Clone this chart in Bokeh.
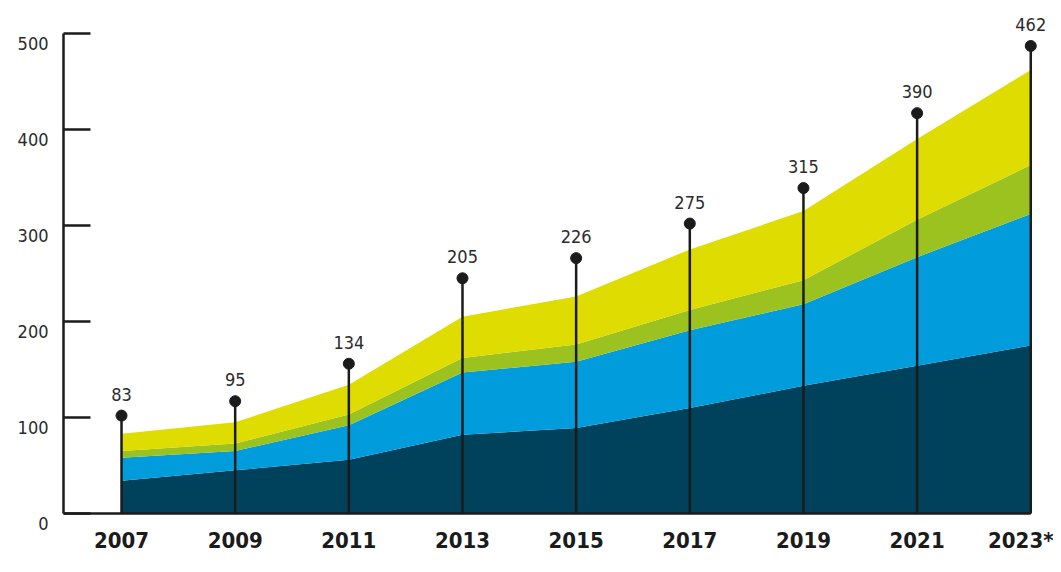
from bokeh.plotting import figure
from bokeh.models import ColumnDataSource, Range1d, LabelSet, FixedTicker, LinearAxis
from bokeh.core.properties import value
from bokeh.embed import file_html
from bokeh.resources import INLINE

years = [2007, 2009, 2011, 2013, 2015, 2017, 2019, 2021, 2023]
year_labels = ["2007", "2009", "2011", "2013", "2015", "2017", "2019", "2021", "2023*"]
navy = [34, 45, 56, 82, 89, 110, 133, 154, 175]
blue = [24, 20, 36, 65, 69, 81, 85, 113, 137]
green = [7, 8, 11, 15, 18, 21, 25, 39, 51]
yellow = [18, 22, 31, 43, 50, 63, 72, 84, 99]
totals = [83, 95, 134, 205, 226, 275, 315, 390, 462]
pin_tops = [102, 117, 156, 245, 266, 302, 339, 417, 487]
y_ticks = [0, 100, 200, 300, 400, 500]

INK = "#1b1b1b"
FONT = "DejaVu Sans Condensed"

src = ColumnDataSource(dict(year=years, navy=navy, blue=blue, green=green, yellow=yellow,
                            total=[str(t) for t in totals], pin=pin_tops,
                            zero=[0] * len(years)))

x_start = 2005.891     # frame left
x_axis = 2005.979      # where the y axis line sits
tick_len = 0.475       # tick length in years
y_min, y_max = -10.4, 526
shift = 10.4           # tick labels sit a little below their ticks

p = figure(width=1053, height=564, output_backend="svg", toolbar_location=None,
           x_range=Range1d(x_start, 2023.4), y_range=Range1d(y_min, y_max),
           y_axis_location=None,
           min_border_left=58, min_border_right=0, min_border_top=8, min_border_bottom=41)
p.outline_line_color = None
p.grid.visible = False
p.background_fill_color = "white"
p.border_fill_color = "white"
p.extra_y_ranges = {"lbl": Range1d(y_min + shift, y_max + shift)}

p.varea_stack(["navy", "blue", "green", "yellow"], x="year", source=src,
              color=["#00415b", "#009cdb", "#9bc21e", "#dedc00"])

# axis lines and inward ticks
p.segment(x0=[x_axis], y0=[0], x1=[x_axis], y1=[y_ticks[-1]], line_color=INK, line_width=2.5)
p.segment(x0=[x_axis], y0=[0], x1=[years[-1]], y1=[0], line_color=INK, line_width=2.5)
p.segment(x0=[x_axis] * len(y_ticks), y0=y_ticks, x1=[x_axis + tick_len] * len(y_ticks), y1=y_ticks,
          line_color=INK, line_width=2.5)

# pins
p.segment(x0="year", y0="zero", x1="year", y1="pin", source=src, line_color=INK, line_width=2.5)
p.scatter(x="year", y="pin", source=src, size=11, fill_color=INK, line_color=INK)

p.add_layout(LabelSet(x="year", y="pin", text="total", source=src, y_offset=15,
                      text_align="center", text_baseline="bottom",
                      text_font=value(FONT),
                      text_font_size="18px", text_color="#2b2b2b"))

# y tick labels
ya = LinearAxis(y_range_name="lbl", ticker=FixedTicker(ticks=y_ticks))
ya.axis_line_color = None
ya.major_tick_line_color = None
ya.minor_tick_line_color = None
ya.major_tick_in = 0
ya.major_tick_out = 0
ya.major_label_standoff = 10
ya.major_label_text_font = FONT
ya.major_label_text_font_size = "18px"
ya.major_label_text_color = "#2b2b2b"
p.add_layout(ya, "left")

# x axis labels
xa = p.xaxis[0]
xa.ticker = FixedTicker(ticks=years)
xa.major_label_overrides = {y: l for y, l in zip(years, year_labels)}
xa.axis_line_color = None
xa.major_tick_line_color = None
xa.minor_tick_line_color = None
xa.major_tick_in = 0
xa.major_tick_out = 0
xa.major_label_standoff = 4
xa.major_label_text_font = FONT
xa.major_label_text_font_style = "bold"
xa.major_label_text_font_size = "22px"
xa.major_label_text_color = INK

open("out.html", "w").write(file_html(p, INLINE))
